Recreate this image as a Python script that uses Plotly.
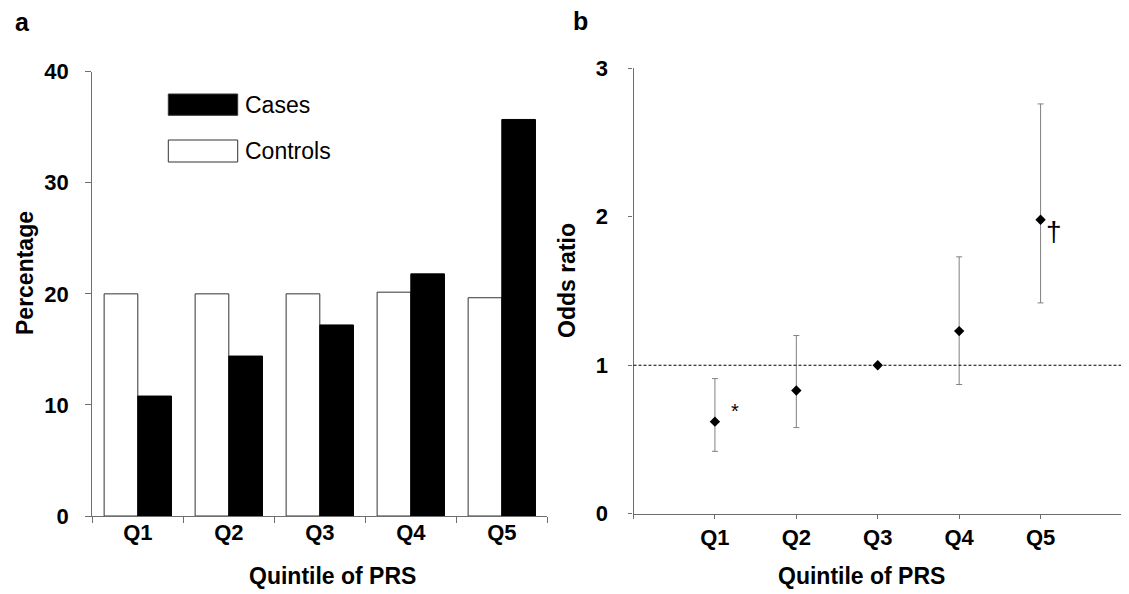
import plotly.graph_objects as go

# ---------------- data ----------------
categories = ["Q1", "Q2", "Q3", "Q4", "Q5"]
controls_pct = [20.0, 20.0, 20.0, 20.15, 19.65]
cases_pct = [10.8, 14.4, 17.2, 21.8, 35.7]

odds_ratio = [0.62, 0.83, 1.00, 1.23, 1.98]
ci_low = [0.42, 0.58, 1.00, 0.87, 1.42]
ci_high = [0.91, 1.20, 1.00, 1.73, 2.76]

left_yticks = [0, 10, 20, 30, 40]
right_yticks = [0, 1, 2, 3]
marks = ["*", "", "", "", "\u2020"]

# ---------------- geometry helpers ----------------
# the page body has an 8px margin, so the figure is placed at (8, 8)
OFF = 8
W, H = 1129 - OFF, 594 - OFF
def px(x):
    return (x - OFF) / W
def py(y):
    return 1 - (y - OFF) / H

FONT = "Liberation Sans, Arial, sans-serif"
AXC = "#6e6e6e"

fig = go.Figure()

# Panel a: bars
fig.add_trace(go.Bar(
    x=categories, y=controls_pct, name="Controls",
    marker=dict(color="white", line=dict(color="#333333", width=1)),
    xaxis="x", yaxis="y", showlegend=False,
))
fig.add_trace(go.Bar(
    x=categories, y=cases_pct, name="Cases",
    marker=dict(color="black", line=dict(color="black", width=1)),
    xaxis="x", yaxis="y", showlegend=False,
))

# Panel b: odds ratios with CI
xpos = list(range(1, len(categories) + 1))
err_plus = [h - o for h, o in zip(ci_high, odds_ratio)]
err_minus = [o - l for o, l in zip(odds_ratio, ci_low)]
fig.add_trace(go.Scatter(
    x=xpos, y=odds_ratio, mode="markers",
    marker=dict(symbol="diamond", color="black", size=8),
    error_y=dict(type="data", array=err_plus, arrayminus=err_minus,
                 color="#808080", thickness=1, width=3),
    xaxis="x2", yaxis="y2", showlegend=False,
))

# significance marks
for xi, yi, m in zip(xpos, odds_ratio, marks):
    if m == "*":
        fig.add_annotation(x=xi + 0.25, y=yi + 0.07, xref="x2", yref="y2",
                           text=m, showarrow=False, xanchor="center", yanchor="middle",
                           font=dict(family=FONT, size=20, color="black"))
    elif m:
        fig.add_annotation(x=xi + 0.16, y=yi - 0.08, xref="x2", yref="y2",
                           text=m, showarrow=False, xanchor="center", yanchor="middle",
                           font=dict(family=FONT, size=28, color="black"))

# reference line at OR = 1
fig.add_shape(type="line", xref="x2 domain", yref="y2", x0=0, x1=1, y0=1, y1=1,
              line=dict(color="black", width=1.2, dash="3px,2px"))

tickfont = dict(family=FONT, size=22, color="black", weight="bold")

fig.update_layout(
    width=W, height=H,
    margin=dict(l=0, r=0, t=0, b=0, autoexpand=False),
    paper_bgcolor="white", plot_bgcolor="white",
    barmode="group", bargap=0.26, bargroupgap=0,
    font=dict(family=FONT, color="black"),
    showlegend=False,
    xaxis=dict(
        domain=[px(92.3), px(547.3)], anchor="y", automargin=False,
        type="category", range=[-0.5, 4.5],
        showline=True, linecolor=AXC, linewidth=1.3,
        ticks="outside", ticklen=6, tickcolor=AXC, tickwidth=1.3,
        tickson="boundaries", ticklabelstandoff=-4,
        tickfont=tickfont, showgrid=False, zeroline=False,
    ),
    yaxis=dict(
        domain=[py(516), py(71.7)], anchor="x", automargin=False,
        range=[0, 40], tickvals=left_yticks,
        showline=True, linecolor=AXC, linewidth=1.3,
        ticks="outside", ticklen=6, tickcolor=AXC, tickwidth=1.3,
        ticklabelstandoff=12,
        tickfont=tickfont, showgrid=False, zeroline=False,
    ),
    xaxis2=dict(
        domain=[px(633.5), px(1122)], anchor="y2", automargin=False,
        range=[0, 6], tickvals=[0] + xpos + [6],
        ticktext=[""] + categories + [""],
        showline=True, linecolor=AXC, linewidth=1.3,
        ticks="outside", ticklen=4, tickcolor=AXC, tickwidth=1.3,
        ticklabelstandoff=0,
        tickfont=tickfont, showgrid=False, zeroline=False,
    ),
    yaxis2=dict(
        domain=[py(513.7), py(68.3)], anchor="x2", automargin=False,
        range=[0, 3], tickvals=right_yticks,
        showline=True, linecolor=AXC, linewidth=1.3,
        ticks="outside", ticklen=4, tickcolor=AXC, tickwidth=1.3,
        ticklabelstandoff=16,
        tickfont=tickfont, showgrid=False, zeroline=False,
    ),
)

def label(x, y, text, font, **kw):
    fig.add_annotation(x=px(x), y=py(y), xref="paper", yref="paper",
                       text=text, showarrow=False, font=font,
                       xanchor=kw.pop("xanchor", "center"),
                       yanchor=kw.pop("yanchor", "middle"), **kw)

# axis titles
titlefont = dict(family=FONT, size=23, color="black", weight="bold")
label(332, 576, "Quintile of PRS", titlefont)
label(861, 576, "Quintile of PRS", titlefont)
label(25, 273, "Percentage", titlefont, textangle=-90)
label(567, 281, "Odds ratio", titlefont, textangle=-90)

# panel letters
letterfont = dict(family=FONT, size=25, color="black", weight="bold")
label(22.5, 22, "a", letterfont)
label(580, 21, "b", letterfont)

# legend (drawn manually to match large swatches)
legend_items = [("Cases", "black", 94, 115.3), ("Controls", "white", 140, 162)]
for name, fill, y0, y1 in legend_items:
    fig.add_shape(type="rect", xref="paper", yref="paper",
                  x0=px(168.3), x1=px(237.7), y0=py(y1), y1=py(y0),
                  fillcolor=fill, line=dict(color="#333333", width=1))
    label(243, (y0 + y1) / 2, name, dict(family=FONT, size=23, color="black"),
          xanchor="left")

fig.write_html("out.html")
